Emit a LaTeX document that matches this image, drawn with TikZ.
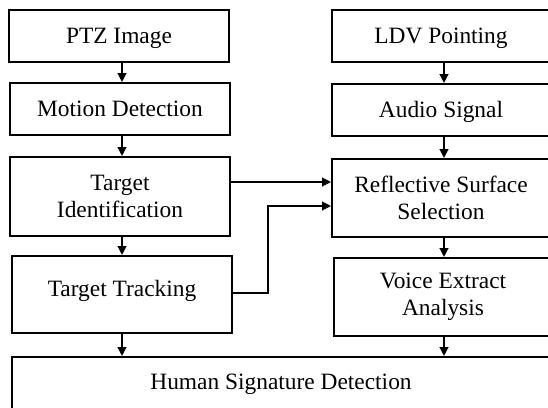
\documentclass[tikz,border=0pt]{standalone}
\usepackage{fontspec}
\setmainfont{Liberation Serif}
\usetikzlibrary{arrows.meta}
\begin{document}
\begin{tikzpicture}[x=1pt,y=-1pt,
  box/.style={draw, line width=1.8pt, inner sep=0pt, anchor=center,
    font=\fontsize{23.4}{27}\selectfont},
  one/.style={text height=17.5pt, text depth=3.5pt},
  two/.style={align=center},
  txt/.style={inner sep=0pt, anchor=base, font=\fontsize{23.4}{27}\selectfont},
  arr/.style={line width=2.2pt, -{Triangle[length=9pt,width=8.5pt]}}]
\clip (0,0) rectangle (548,407);
\fill[white] (0,0) rectangle (548,407);
% left column
\node[box,one,minimum width=220pt,minimum height=52pt] (ptz) at (119,36) {PTZ Image};
\node[box,one,minimum width=220pt,minimum height=52pt] (mot) at (120,109) {Motion Detection};
\node[box,two,minimum width=220pt,minimum height=79pt] (tid) at (120,196.5) {Target\\Identification};
\node[box,minimum width=220pt,minimum height=77pt] (trk) at (122,294.5) {};
\node[txt] (trkt) at (122,296) {Target Tracking};
\node[box,minimum width=540pt,minimum height=52pt] (hum) at (282,383) {};
\node[txt] (humt) at (281,389) {Human Signature Detection};
% right column
\node[box,one,minimum width=218pt,minimum height=52pt] (ldv) at (441,36) {LDV Pointing};
\node[box,one,minimum width=218pt,minimum height=52pt] (aud) at (441,110) {Audio Signal};
\node[box,two,minimum width=218pt,minimum height=78pt] (ref) at (441,198) {Reflective Surface\\Selection};
\node[box,two,minimum width=218pt,minimum height=78pt] (voi) at (443,297) {Voice Extract\\Analysis};
% vertical arrows
\coordinate (xl) at (122,0);
\coordinate (xr) at (444,0);
\draw[arr] (ptz.south -| xl) -- (mot.north -| xl);
\draw[arr] (mot.south -| xl) -- (tid.north -| xl);
\draw[arr] (tid.south -| xl) -- (trk.north -| xl);
\draw[arr] (trk.south -| xl) -- (hum.north -| xl);
\draw[arr] (ldv.south -| xr) -- (aud.north -| xr);
\draw[arr] (aud.south -| xr) -- (ref.north -| xr);
\draw[arr] (ref.south -| xr) -- (voi.north -| xr);
\draw[arr] (voi.south -| xr) -- (hum.north -| xr);
% horizontal arrows
\coordinate (h1) at (0,182);
\coordinate (c2) at (268,293);
\coordinate (c3) at (268,206);
\draw[arr] (tid.east |- h1) -- (ref.west |- h1);
\draw[arr] (trk.east |- c2) -- (c2) -- (c3) -- (ref.west |- c3);
\end{tikzpicture}
\end{document}
